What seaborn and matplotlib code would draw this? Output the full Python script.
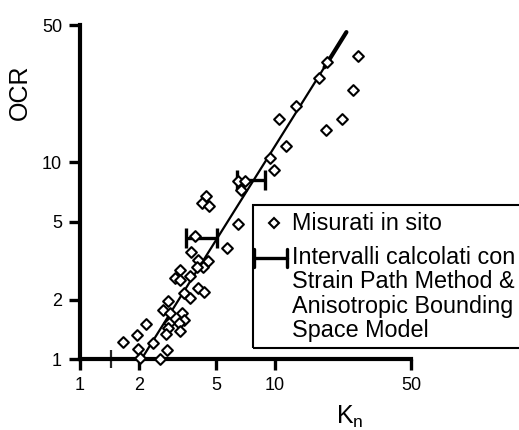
import numpy as np
import matplotlib
matplotlib.use("Agg")
import matplotlib.pyplot as plt
import seaborn as sns
from matplotlib.lines import Line2D
from matplotlib.patches import Rectangle
from matplotlib.ticker import FixedLocator, NullLocator, NullFormatter

# measured in situ (Kn, OCR)
kn = [18.6, 16.8, 26.6, 25.2, 22.1, 18.4, 12.8, 10.5, 11.4, 9.5, 9.9,
      6.48, 7.02, 6.69, 4.43, 4.21, 4.60, 6.48, 3.90, 5.71, 3.72, 4.04,
      4.52, 4.29, 3.97, 3.26, 3.07, 3.26, 3.67, 4.04, 4.34, 3.42, 3.67,
      2.84, 2.66, 2.90, 3.35, 3.43, 3.22, 3.26, 2.87, 2.84, 2.75, 2.17,
      1.67, 1.97, 1.99, 2.38, 2.78, 2.57, 2.03]
ocr = [32.5, 26.8, 34.6, 23.4, 16.6, 14.7, 19.4, 16.6, 12.1, 10.5, 9.2,
       8.09, 8.09, 7.28, 6.73, 6.23, 6.01, 4.87, 4.22, 3.68, 3.50, 3.17,
       3.14, 2.94, 2.94, 2.84, 2.58, 2.51, 2.63, 2.29, 2.18, 2.16, 2.04,
       1.98, 1.78, 1.71, 1.72, 1.57, 1.52, 1.39, 1.53, 1.43, 1.34, 1.50,
       1.22, 1.33, 1.13, 1.20, 1.11, 1.00, 1.01]

# calculated intervals (Strain Path Method & Anisotropic Bounding Space Model)
int_lo = [3.48, 6.40]
int_hi = [5.02, 8.89]
int_ocr = [4.13, 8.10]

# regression line
fit_kn = [2.07, 23.3]
fit_ocr = [1.0, 46.0]
thick_kn = [18.0, 23.3]
thick_ocr = [30.5, 46.0]

ticks = [1, 2, 5, 10, 50]
tick_labels = ["1", "2", "5", "10", "50"]

sns.set_style("ticks")
plt.rcParams["font.family"] = ["Liberation Sans", "DejaVu Sans"]
plt.rcParams["mathtext.fontset"] = "custom"
plt.rcParams["mathtext.rm"] = "Liberation Sans"
plt.rcParams["text.color"] = "black"
plt.rcParams["axes.labelcolor"] = "black"

W, H = 519, 430
fig = plt.figure(figsize=(W / 100, H / 100), dpi=100)
ax = fig.add_axes([80 / W, 1 - 359 / H, 331 / W, 334 / H])

def fpos(x, y):
    return x / W, 1 - y / H

# intervals
centers = np.sqrt(np.array(int_lo) * np.array(int_hi))
ax.errorbar(centers, int_ocr,
            xerr=[centers - np.array(int_lo), np.array(int_hi) - centers],
            fmt="none", ecolor="black", elinewidth=2.4, capsize=7.5,
            capthick=2.4, zorder=3)

sns.lineplot(x=fit_kn, y=fit_ocr, color="black", linewidth=1.6, ax=ax, zorder=2)
sns.lineplot(x=thick_kn, y=thick_ocr, color="black", linewidth=3, ax=ax, zorder=2)

sns.scatterplot(x=kn, y=ocr, marker="D", s=30, facecolor="white",
                edgecolor="black", linewidth=1.5, ax=ax, zorder=4, clip_on=False)

ax.set_xscale("log")
ax.set_yscale("log")
ax.set_xlim(1, 50)
ax.set_ylim(1, 50)

ax.xaxis.set_major_locator(FixedLocator(ticks))
ax.yaxis.set_major_locator(FixedLocator(ticks))
ax.set_xticklabels(tick_labels)
ax.set_yticklabels(tick_labels)
ax.xaxis.set_minor_locator(FixedLocator([1.45]))
ax.xaxis.set_minor_formatter(NullFormatter())
ax.yaxis.set_minor_locator(NullLocator())
ax.tick_params(which="major", direction="out", length=8, width=2.4,
               labelsize=13, pad=5, color="black", labelcolor="black")
ax.tick_params(which="minor", axis="x", direction="inout", length=13, width=1.6)

sns.despine(ax=ax)
for side in ["left", "bottom"]:
    ax.spines[side].set_linewidth(3)
    ax.spines[side].set_color("black")

ax.set_xlabel("K$_\\mathregular{n}$", fontsize=18)
ax.set_ylabel("OCR", fontsize=18)
ax.xaxis.set_label_coords(0.815, -0.135)
ax.yaxis.set_label_coords(-0.145, 0.80)

# legend box
fig.add_artist(Rectangle(fpos(253, 348), (530 - 253) / W, (348 - 205) / H,
                         transform=fig.transFigure, fill=False,
                         edgecolor="black", linewidth=1.5))
fig.add_artist(Line2D(*[[v] for v in fpos(274, 223)], marker="D", markersize=5.5,
                      markerfacecolor="white", markeredgecolor="black",
                      markeredgewidth=1.5, transform=fig.transFigure))
x0, y0 = fpos(254, 258)
x1, _ = fpos(287, 258)
_, ya = fpos(254, 249)
_, yb = fpos(254, 267)
fig.add_artist(Line2D([x0, x1], [y0, y0], color="black", lw=2.4,
                      transform=fig.transFigure))
for xc in (x0, x1):
    fig.add_artist(Line2D([xc, xc], [ya, yb], color="black", lw=2.4,
                          transform=fig.transFigure))

legend_lines = [("Misurati in sito", 223), ("Intervalli calcolati con", 258),
                ("Strain Path Method &", 282), ("Anisotropic Bounding", 306),
                ("Space Model", 330)]
for txt, yy in legend_lines:
    fig.text(*fpos(292, yy), txt, fontsize=16.8, va="center", ha="left")

fig.savefig("out.png", dpi=100)
